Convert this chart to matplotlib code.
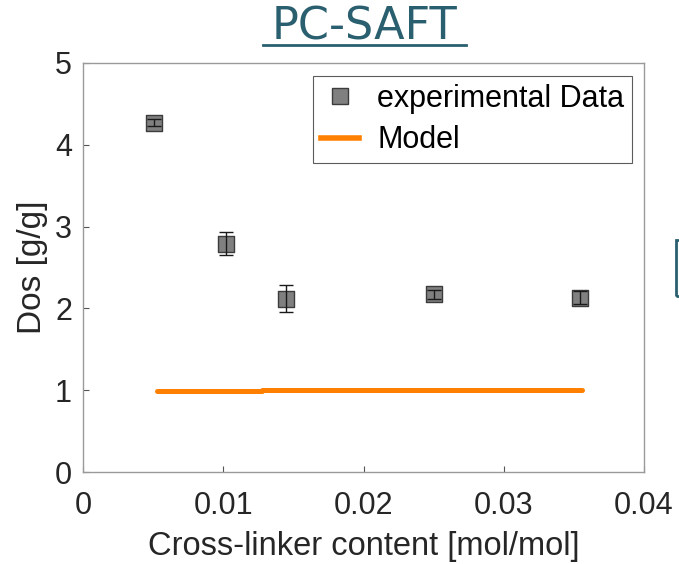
import matplotlib
matplotlib.use('Agg')
from matplotlib import pyplot
from matplotlib.lines import Line2D
from matplotlib.patches import Rectangle

# measured data
x_exp = [0.00506, 0.0102, 0.01447, 0.0250, 0.03544]
y_exp = [4.27, 2.79, 2.12, 2.17, 2.13]
y_err = [0.04, 0.14, 0.16, 0.05, 0.08]

# model curve (two segments with a tiny step)
x_model = [0.00528, 0.01276, 0.01276, 0.03558]
y_model = [0.99, 0.99, 1.005, 1.005]

x_ticks = [0, 0.01, 0.02, 0.03, 0.04]
x_ticklabels = ['0', '0.01', '0.02', '0.03', '0.04']
y_ticks = [0, 1, 2, 3, 4, 5]

pyplot.rcParams['font.family'] = ['Liberation Sans', 'DejaVu Sans']
pyplot.rcParams['axes.unicode_minus'] = False

fig = pyplot.figure(figsize=(6.79, 5.64), dpi=100)
axis = fig.add_axes([83 / 679, 1 - 472 / 564, (644 - 83) / 679, (472 - 63) / 564])

axis.plot(x_model, y_model, color='#ff8000', linewidth=3.6,
          solid_capstyle='round', zorder=2)
axis.errorbar(x_exp, y_exp, yerr=y_err, fmt='none', ecolor='#1a1a1a',
              elinewidth=1.0, capsize=5, capthick=1.0, zorder=4)
axis.scatter(x_exp, y_exp, marker='s', s=135, facecolors='#808080',
             edgecolors='#3c3c3c', linewidths=1.0, zorder=3)

axis.set_xlim(0, 0.04)
axis.set_ylim(0, 5)
axis.set_xticks(x_ticks)
axis.set_xticklabels(x_ticklabels)
axis.set_yticks(y_ticks)
axis.tick_params(direction='in', length=4, width=0.8, color='#555555',
                 labelsize=22, labelcolor='#262626')
axis.tick_params(axis='x', pad=14)
axis.tick_params(axis='y', pad=8)
for spine in axis.spines.values():
    spine.set_color('#9a9a9a')
    spine.set_linewidth(1.0)

axis.set_xlabel('Cross-linker content [mol/mol]', fontsize=23.5, color='#262626', labelpad=7)
axis.set_ylabel('Dos [g/g]', fontsize=24, color='#262626', labelpad=5)

handles = [
    Line2D([], [], linestyle='none', marker='s', markersize=12,
           markerfacecolor='#808080', markeredgecolor='#3c3c3c'),
    Line2D([], [], color='#ff8000', linewidth=4.0),
]
legend = axis.legend(handles, ['experimental Data', 'Model'], loc='upper right',
                     bbox_to_anchor=(1 - 12 / 561, 1 - 13 / 409), fontsize=22,
                     frameon=True, fancybox=False, borderaxespad=0,
                     handlelength=1.25, handletextpad=0.6, labelspacing=0.38,
                     borderpad=0.25)
legend.get_frame().set_edgecolor('#333333')
legend.get_frame().set_linewidth(0.8)

# title with underline
title_color = '#2a5f70'
fig.text(364 / 679, 1 - 27 / 564, 'PC-SAFT', ha='center', va='center',
         fontsize=32, color=title_color, family=['DejaVu Sans'])
fig.add_artist(Line2D([263 / 679, 466 / 679], [1 - 45 / 564, 1 - 45 / 564],
                      color=title_color, linewidth=2.0, transform=fig.transFigure))

# edge of a neighbouring box, cut off by the image border
fig.add_artist(Rectangle((676 / 679, 1 - 296 / 564), 20 / 679, 56 / 564,
                         fill=False, edgecolor=title_color, linewidth=2.0,
                         transform=fig.transFigure, clip_on=False))

fig.savefig('out.png', dpi=100)
pyplot.close(fig)
